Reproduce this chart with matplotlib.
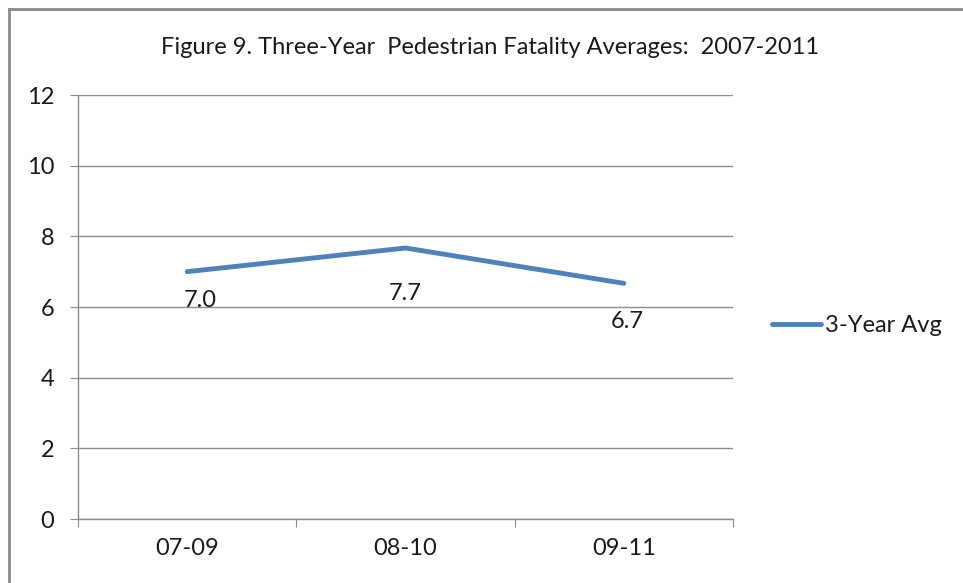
import matplotlib.pyplot as plt
from matplotlib.lines import Line2D

periods = ['07-09', '08-10', '09-11']
avg_values = [7.0, 7.67, 6.67]
value_labels = ['7.0', '7.7', '6.7']
yticks = [0, 2, 4, 6, 8, 10, 12]

plt.rcParams['font.family'] = ['Lato', 'DejaVu Sans']
fs = 17
txt_c = '#1a1a1a'

W, H = 963, 583
fig = plt.figure(figsize=(W / 100, H / 100), dpi=100)
ax = fig.add_axes([78 / W, 1 - 519 / H, (733 - 78) / W, (519 - 95) / H])

grid_c = '#8c8c8c'
blue = '#4f81bd'

x = [0.5, 1.5, 2.5]
ax.plot(x, avg_values, color=blue, lw=3.5, solid_capstyle='round', label='3-Year Avg')

# label offsets in pixels (right, down)
offs = [(13, 29), (0, 46), (3, 38)]
for xi, v, lab, (dx, dy) in zip(x, avg_values, value_labels, offs):
    ax.annotate(lab, (xi, v), xytext=(dx * 0.72, -dy * 0.72), textcoords='offset points',
                ha='center', va='center', fontsize=fs, color=txt_c)

ax.set_xlim(0, 3)
ax.set_ylim(0, 12)
ax.set_yticks(yticks)
ax.set_yticklabels([str(t) for t in yticks], fontsize=fs, color=txt_c)
ax.set_xticks([0, 1, 2, 3])
ax.set_xticklabels([])
ax.set_xticks(x, minor=True)
ax.set_xticklabels(periods, minor=True, fontsize=fs, color=txt_c)
ax.tick_params(axis='x', which='major', length=6, color=grid_c, direction='out')
ax.tick_params(axis='x', which='minor', length=0, pad=14)
ax.tick_params(axis='y', length=6, color=grid_c, pad=11)
ax.yaxis.grid(True, color=grid_c, lw=1)
ax.set_axisbelow(True)
for s in ['top', 'right']:
    ax.spines[s].set_visible(False)
for s in ['left', 'bottom']:
    ax.spines[s].set_color(grid_c)
    ax.spines[s].set_linewidth(1)

fig.text(490 / W, 1 - 47 / H, 'Figure 9. Three-Year  Pedestrian Fatality Averages:  2007-2011',
         ha='center', va='center', fontsize=fs, color=txt_c)

leg = ax.legend(loc='center left', bbox_to_anchor=(760 / W, 1 - 326 / H),
                bbox_transform=fig.transFigure, frameon=False, fontsize=fs,
                handlelength=2.1, handletextpad=0.15, borderpad=0)
for t in leg.get_texts():
    t.set_color(txt_c)

# outer chart frame (cropped on right and bottom)
fig.add_artist(Line2D([9 / W, 9 / W], [0, 1 - 9 / H], transform=fig.transFigure, color='#8a8a8a', lw=2))
fig.add_artist(Line2D([9 / W, 1], [1 - 9 / H, 1 - 9 / H], transform=fig.transFigure, color='#8a8a8a', lw=2))

fig.savefig('out.png', dpi=100)
